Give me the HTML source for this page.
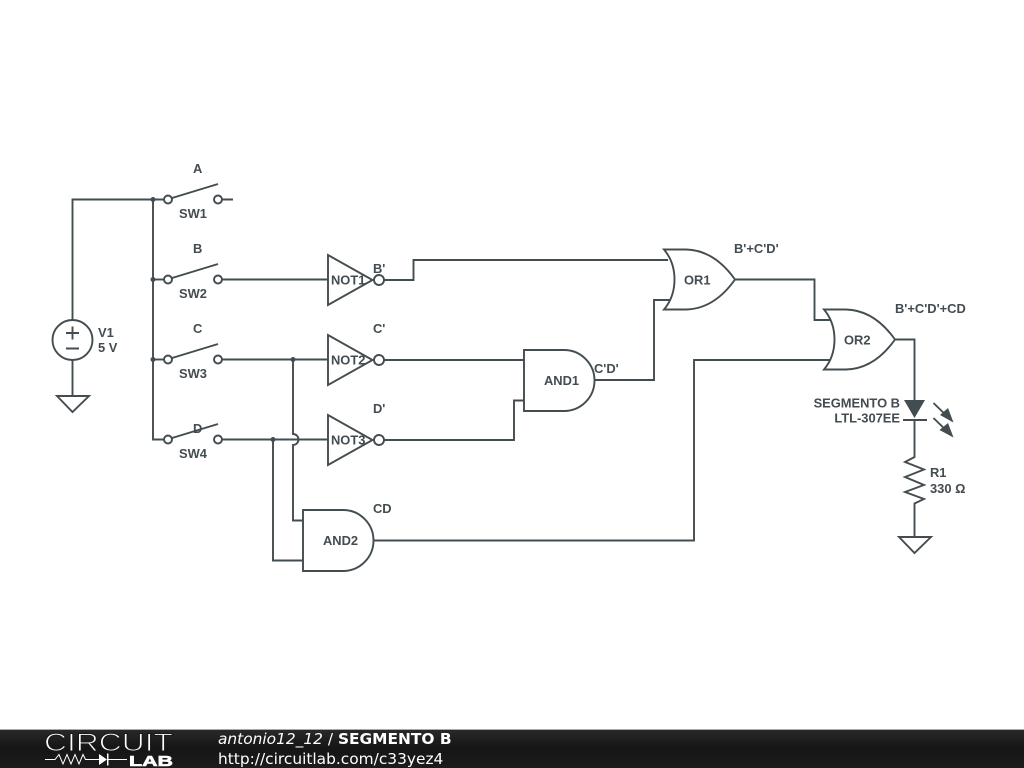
<!DOCTYPE html>
<html><head><meta charset="utf-8"><style>
html,body{margin:0;padding:0;background:#fff;width:1024px;height:768px;overflow:hidden}
svg{display:block}
.w{fill:none;stroke:#434c50;stroke-width:1.9;stroke-linejoin:miter}
.t{font-family:"Liberation Sans",sans-serif;font-size:12.9px;font-weight:bold;fill:#434c50}
.f{font-family:"DejaVu Sans",sans-serif;font-size:15.4px;fill:#fff}
</style></head><body>
<svg width="1024" height="768" viewBox="0 0 1024 768" xmlns="http://www.w3.org/2000/svg">
<defs><linearGradient id="g" x1="0" y1="0" x2="0" y2="1"><stop offset="0" stop-color="#2a2a2a"/><stop offset="0.5" stop-color="#151515"/><stop offset="1" stop-color="#1c1c1c"/></linearGradient></defs>
<rect width="1024" height="768" fill="#fff"/>
<g class="w">
<path d="M72.5,320V199.5H164M153,199.5V439.5H164"/>
<path d="M72.5,360V396M57,396H89L72.5,412Z"/>
<circle cx="72.5" cy="340" r="20"/>
<path d="M66,333H79M72.5,326.500V339.500M66,348.500H79"/>
<circle cx="168" cy="199.500" r="4"/><circle cx="218" cy="199.500" r="4"/><path d="M172,198L218,184M222,199.500H233"/>
<path d="M153,279.500H164"/><circle cx="168" cy="279.500" r="4"/><circle cx="218" cy="279.500" r="4"/><path d="M172,278L218,264M222,279.500H328"/>
<path d="M153,359.500H164"/><circle cx="168" cy="359.500" r="4"/><circle cx="218" cy="359.500" r="4"/><path d="M172,358L218,344M222,359.500H328"/>
<circle cx="168" cy="439.500" r="4"/><circle cx="218" cy="439.500" r="4"/><path d="M172,438L218,424M222,439.500H328"/>
<path d="M293,359.500V434A5.500,5.500 0 0 1 293,445V520.500H303"/>
<path d="M273,439.500V560.500H303"/>
<path d="M328,255V305L372.500,280Z"/><circle cx="379" cy="280" r="5"/>
<path d="M328,335V385L372.500,360Z"/><circle cx="379" cy="360" r="5"/>
<path d="M328,415V465L372.500,440Z"/><circle cx="379" cy="440" r="5"/>
<path d="M384,280H413.500V260H668"/>
<path d="M384,360H524M384,440H514V400.500H524"/>
<path d="M524,350H564A30.500,30.500 0 0 1 564,411H524Z"/>
<path d="M594,380H654V300H670"/>
<path d="M303,510H343A30.500,30.500 0 0 1 343,571H303Z"/>
<path d="M373,540.500H694V360H830"/>
<path d="M664,249.500H686C708,250 724,264 735,279.500C724,295 708,309 686,309.500H664C672,300 674.500,290 674.500,279.500C674.500,269 672,259 664,249.500Z"/>
<path d="M735,279.500H814.500V320H830"/>
<path d="M824,309.500H846C868,310 884,324 895,339.500C884,355 868,369 846,369.500H824C832,360 834.500,350 834.500,339.500C834.500,329 832,319 824,309.500Z"/>
<path d="M895,339.500H914.500V400M903,420H927M914.500,420V457L905,462L924,469.500L905,477L924,485L905,492L924,499L914.500,503.500V537M899,537H931L914.500,553Z"/>
<path d="M933.500,403L952,421M933.500,418L952,436"/>
</g>
<g fill="#434c50">
<circle cx="153" cy="199.500" r="2.500"/><circle cx="153" cy="279.500" r="2.500"/><circle cx="153" cy="359.500" r="2.500"/>
<circle cx="293" cy="359.500" r="2.500"/><circle cx="273" cy="439.500" r="2.500"/>
<path d="M904,400H925L914.500,418Z"/>
<path d="M953.500,422.500L940,415L948,408ZM953.500,437.500L939.500,430L948,423Z"/>
</g>
<g class="t">
<text x="193" y="173">A</text><text x="179" y="218">SW1</text>
<text x="193" y="253">B</text><text x="179" y="298">SW2</text>
<text x="193" y="333">C</text><text x="179" y="378">SW3</text>
<text x="193" y="433">D</text><text x="179" y="458">SW4</text>
<text x="98" y="337">V1</text><text x="98" y="352">5 V</text>
<text x="331" y="284.500">NOT1</text><text x="331" y="364.500">NOT2</text><text x="331" y="444.500">NOT3</text>
<text x="373" y="273">B'</text><text x="373" y="333">C'</text><text x="373" y="413">D'</text>
<text x="544" y="385">AND1</text><text x="594" y="373">C'D'</text>
<text x="323" y="545">AND2</text><text x="373" y="513">CD</text>
<text x="684" y="284.500">OR1</text><text x="734" y="253">B'+C'D'</text>
<text x="844" y="344.500">OR2</text><text x="895" y="313">B'+C'D'+CD</text>
<text x="900" y="407.500" text-anchor="end">SEGMENTO B</text><text x="900" y="422.500" text-anchor="end">LTL-307EE</text>
<text x="930" y="477">R1</text><text x="930" y="493">330 Ω</text>
</g>
<rect y="729" width="1024" height="39" fill="url(#g)"/>
<rect y="729" width="1024" height="1" fill="#aaa"/>
<text x="44" y="751" font-family="'Liberation Sans',sans-serif" font-size="25" fill="#fff" stroke="#1a1a1a" stroke-width="1" textLength="129" lengthAdjust="spacingAndGlyphs">CIRCUIT</text>
<text x="129" y="766" font-family="'Liberation Sans',sans-serif" font-size="15" font-weight="bold" fill="#fff" stroke="#fff" stroke-width=".6" textLength="44" lengthAdjust="spacingAndGlyphs">LAB</text>
<path d="M45,759.500H55L59,754.500L63,764L67,754.500L71,764L75,754.500L79,764L83,754.500L85.500,759.500H99M108,759.500H127" fill="none" stroke="#fff" stroke-width="1"/>
<path d="M99,754V765L107,759.500Z" fill="#fff"/><rect x="107" y="753.500" width="1.500" height="12" fill="#fff"/>
<text class="f" x="218" y="744"><tspan font-style="italic">antonio12_12</tspan> / <tspan font-weight="bold">SEGMENTO B</tspan></text>
<text class="f" x="218" y="764">http://circuitlab.com/c33yez4</text>
</svg>
</body></html>
